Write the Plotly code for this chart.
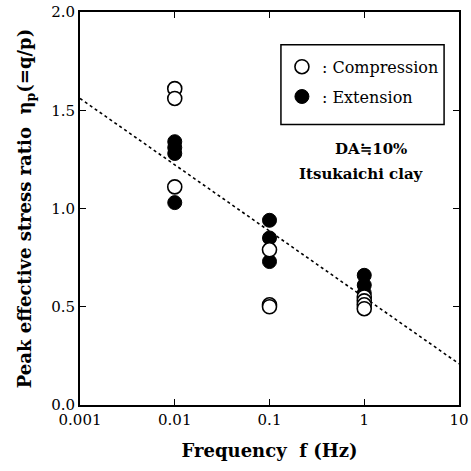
import plotly.graph_objects as go

# Data
comp_f = [0.01, 0.01, 0.01, 0.1, 0.1, 0.1, 1, 1, 1, 1]
comp_eta = [1.61, 1.56, 1.11, 0.79, 0.51, 0.50, 0.55, 0.53, 0.51, 0.49]
ext_f = [0.01, 0.01, 0.01, 0.01, 0.1, 0.1, 0.1, 1, 1, 1]
ext_eta = [1.34, 1.31, 1.28, 1.03, 0.94, 0.85, 0.73, 0.66, 0.61, 0.57]
fit_f = [0.001, 10]
fit_eta = [1.56, 0.21]

x_ticks = [0.001, 0.01, 0.1, 1, 10]
x_tick_labels = ["0.001", "0.01", "0.1", "1", "10"]
y_ticks = [0.0, 0.5, 1.0, 1.5, 2.0]

FONT = "DejaVu Serif"

# plot area in window pixels: x 80..461, y 10..405
W = H = 471
L, R, T, B = 80, 10, 10, 66
PW = W - L - R
PH = H - T - B


def px(xa):
    return (xa - 80) / PW


def py(ya):
    return (405 - ya) / PH


fig = go.Figure()
fig.add_trace(go.Scatter(x=fit_f, y=fit_eta, mode="lines",
                         line=dict(color="black", width=1.6, dash="dot"),
                         showlegend=False, hoverinfo="skip"))
fig.add_trace(go.Scatter(x=ext_f, y=ext_eta, mode="markers", name=": Extension",
                         legendgroup="ext", legendrank=2,
                         marker=dict(symbol="circle", size=14, color="black",
                                     line=dict(color="black", width=1))))
fig.add_trace(go.Scatter(x=comp_f, y=comp_eta, mode="markers", name=": Compression",
                         legendgroup="comp", legendrank=1,
                         marker=dict(symbol="circle", size=14, color="white",
                                     line=dict(color="black", width=1.6))))

fig.update_layout(
    width=W, height=H,
    margin=dict(l=L, r=R, t=T, b=B),
    paper_bgcolor="white", plot_bgcolor="white",
    font=dict(family=FONT, color="black", size=14),
    showlegend=True,
    legend=dict(x=px(283), y=py(48), xanchor="left", yanchor="top",
                bgcolor="rgba(0,0,0,0)", borderwidth=0,
                traceorder="grouped",
                font=dict(family=FONT, size=16), itemwidth=30,
                tracegroupgap=6),
    xaxis=dict(type="log", range=[-3, 1], tickvals=x_ticks, ticktext=x_tick_labels,
               ticks="inside", ticklen=6, tickwidth=1, tickcolor="black",
               showline=True, linecolor="black", linewidth=2, mirror="ticks",
               showgrid=False, zeroline=False, automargin="height",
               tickfont=dict(family=FONT, size=15),
               title=dict(text="<b>Frequency  f (Hz)</b>", font=dict(family=FONT, size=18),
                          standoff=16)),
    yaxis=dict(range=[0, 2], tickvals=y_ticks, tickformat=".1f",
               ticks="inside", ticklen=6, tickwidth=1, tickcolor="black",
               showline=True, linecolor="black", linewidth=2, mirror="ticks",
               showgrid=False, zeroline=False, automargin="width",
               tickfont=dict(family=FONT, size=15),
               title=dict(text="<b>Peak effective stress ratio  η<sub>p</sub>(=q/p)</b>",
                          font=dict(family=FONT, size=18), standoff=15)),
    shapes=[dict(type="rect", xref="paper", yref="paper",
                 x0=px(282), x1=px(446), y0=py(123), y1=py(43),
                 line=dict(color="black", width=1.5), fillcolor="rgba(0,0,0,0)")],
    annotations=[
        dict(text="<b>DA≒10%</b>", xref="paper", yref="paper", xanchor="center",
             x=px(373), y=py(148), showarrow=False,
             font=dict(family=FONT, size=15)),
        dict(text="<b>Itsukaichi clay</b>", xref="paper", yref="paper", xanchor="center",
             x=px(363), y=py(173), showarrow=False,
             font=dict(family=FONT, size=15)),
    ],
)

fig.write_html(
    "out.html",
    config={"displayModeBar": False},
    post_script="document.body.style.margin='0';document.body.style.overflow='hidden';",
)
